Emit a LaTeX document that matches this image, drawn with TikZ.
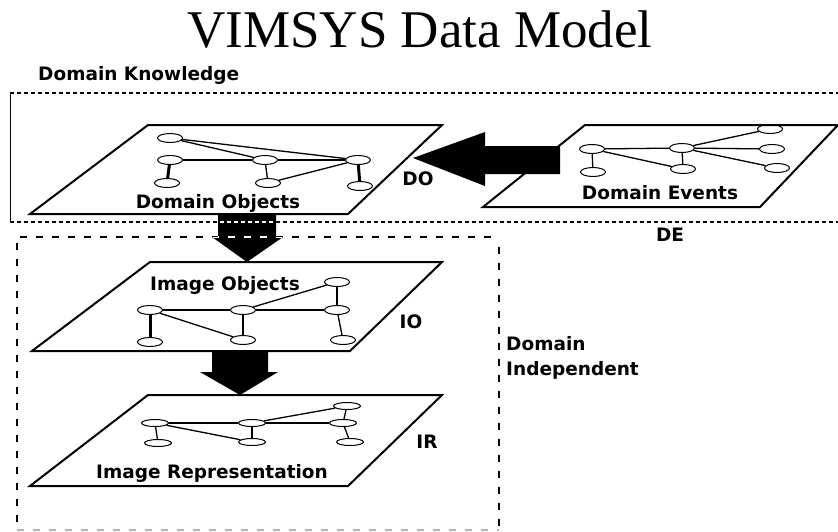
\documentclass[tikz,border=0pt]{standalone}
\usepackage{fontspec}
\setmainfont{DejaVu Sans}
\newfontfamily\titlefont{Liberation Serif}
\usetikzlibrary{shapes.geometric}

\begin{document}
\begin{tikzpicture}[x=1pt,y=-1pt,
  lbl/.style={font=\bfseries\fontsize{18.5}{20}\selectfont, inner sep=0, anchor=base},
  gnode/.style={ellipse, draw, line width=1pt, minimum width=25pt, minimum height=9pt, inner sep=0},
  flatnode/.style={gnode, minimum width=27pt, minimum height=7pt},
  plane/.style={line width=2pt},
  link/.style={line width=1.3pt},
  stub/.style={line width=3pt},
  dotline/.style={line width=1.3pt, dash pattern=on 4pt off 3pt},
  dashline/.style={line width=2pt, dash pattern=on 7pt off 9pt},
]
\useasboundingbox (0,0) rectangle (838,531);

% title and group captions
\node[font=\titlefont\fontsize{53}{60}\selectfont, anchor=base, inner sep=0] (title) at (420,47) {VIMSYS Data Model};
\node[lbl, anchor=base west] (dk) at (38,80) {Domain Knowledge};
\node[lbl, anchor=base west] (di1) at (506,350) {Domain};
\node[lbl, anchor=base west] (di2) at (506,375) {Independent};

% domain knowledge group (dotted)
\draw[dotline] (10,93) -- (838,93);
\draw[dotline] (10,222) -- (838,222);
\draw[line width=1pt] (10,93) -- (10,222);

% domain independent group (dashed)
\draw[dashline] (20,237) -- (492,237);
\draw[dashline] (17,243) -- (17,531);
\draw[dashline] (499,247) -- (499,531);
\draw[dashline, gray!60] (17,530) -- (499,530);

% layer planes
\draw[plane] (30,214) -- (348,214) -- (442,125) -- (148,125) -- cycle;
\draw[plane] (483,207) -- (760,207) -- (838,125) -- (585,125) -- cycle;
\draw[plane] (32,351) -- (350,351) -- (442,262) -- (150,262) -- cycle;
\draw[plane] (30,486) -- (348,486) -- (442,395) -- (148,395) -- cycle;

% domain objects graph
\node[gnode] (o1) at (170,138) {};
\node[gnode] (o2) at (170,160) {};
\node[gnode] (o3) at (167,183) {};
\node[gnode] (o4) at (265,160) {};
\node[gnode] (o5) at (268,183) {};
\node[gnode] (o6) at (358,160) {};
\node[gnode] (o7) at (360,186) {};
\draw[link] (o1) -- (o4);
\draw[link] (o1) -- (o6);
\draw[link] (o2) -- (o4);
\draw[link] (o4) -- (o6);
\draw[link] (o5) -- (o6);
\draw[link] (o4) -- (o5);
\draw[stub] (o2) -- (o3);
\draw[stub] (o6) -- (o7);

% domain events graph
\node[gnode] (e1) at (592,149) {};
\node[gnode] (e2) at (593,172) {};
\node[gnode] (e3) at (682,148) {};
\node[gnode] (e4) at (683,169) {};
\node[gnode] (e5) at (770,129) {};
\node[gnode] (e6) at (772,149) {};
\node[gnode] (e7) at (777,168) {};
\draw[link] (e1) -- (e3);
\draw[link] (e1) -- (e4);
\draw[link] (e1) -- (e2);
\draw[link] (e3) -- (e4);
\draw[link] (e3) -- (e5);
\draw[link] (e3) -- (e6);
\draw[link] (e3) -- (e7);

% image objects graph
\node[gnode] (i1) at (337,282) {};
\node[gnode] (i2) at (150,310) {};
\node[gnode] (i3) at (243,310) {};
\node[gnode] (i4) at (337,310) {};
\node[gnode] (i5) at (150,342) {};
\node[gnode] (i6) at (243,340) {};
\node[gnode] (i7) at (343,340) {};
\draw[link] (i2) -- (i3);
\draw[link] (i3) -- (i4);
\draw[link] (i3) -- (i1);
\draw[link] (i2) -- (i6);
\draw[link] (i1) -- (i4);
\draw[link] (i4) -- (i7);
\draw[link] (i3) -- (i6);
\draw[stub] (i2) -- (i5);

% image representation graph
\node[flatnode] (r1) at (347,406) {};
\node[flatnode] (r2) at (155,423) {};
\node[flatnode] (r3) at (252,423) {};
\node[flatnode] (r4) at (343,423) {};
\node[flatnode] (r5) at (158,443) {};
\node[flatnode] (r6) at (252,442) {};
\node[flatnode] (r7) at (350,442) {};
\draw[link] (r2) -- (r3);
\draw[link] (r3) -- (r4);
\draw[link] (r3) -- (r1);
\draw[link] (r2) -- (r6);
\draw[link] (r1) -- (r4);
\draw[link] (r4) -- (r7);
\draw[link] (r3) -- (r6);
\draw[link] (r2) -- (r5);

% block arrows between layers
\fill (413,158) -- (485,132) -- (485,146) -- (560,146) -- (560,174) -- (485,174) -- (485,186) -- cycle;
\fill (218,214) -- (276,214) -- (276,237) -- (283,237) -- (247,262) -- (212,237) -- (218,237) -- cycle;
\fill (212,351) -- (268,351) -- (268,372) -- (278,372) -- (240,395) -- (200,372) -- (212,372) -- cycle;

% group borders show through the downward arrow in white
\begin{scope}
  \clip (218,214) -- (276,214) -- (276,237) -- (283,237) -- (247,262) -- (212,237) -- (218,237) -- cycle;
  \draw[dotline, white] (10,222) -- (838,222);
  \draw[dashline, white] (20,237) -- (492,237);
\end{scope}

% layer labels
\node[lbl] (dol) at (218,208) {Domain Objects};
\node[lbl] (do) at (418,185) {DO};
\node[lbl] (del) at (660,199) {Domain Events};
\node[lbl] (de) at (670,241) {DE};
\node[lbl] (iol) at (225,290) {Image Objects};
\node[lbl] (io) at (411,328) {IO};
\node[lbl] (irl) at (212,478) {Image Representation};
\node[lbl] (ir) at (427,448) {IR};
\end{tikzpicture}
\end{document}
